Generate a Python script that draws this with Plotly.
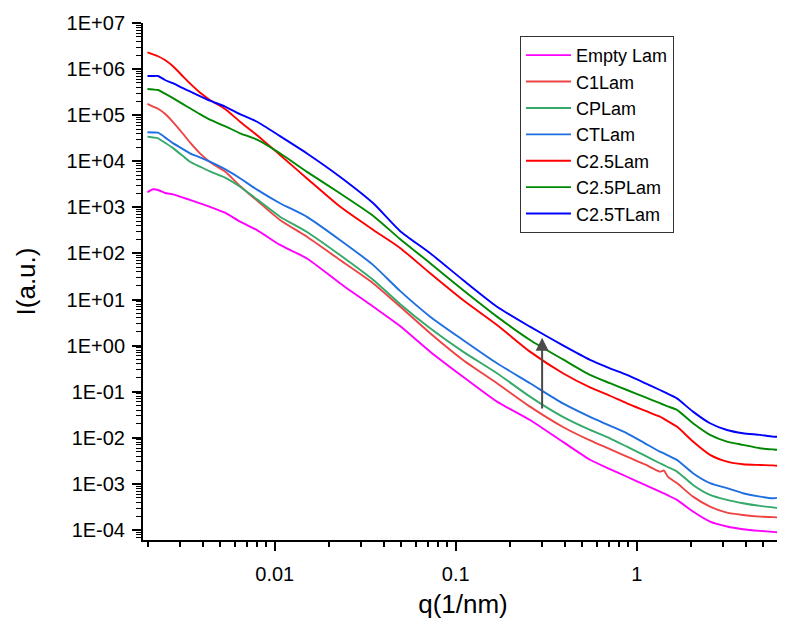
import math
import plotly.graph_objects as go

# scattering vector q (1/nm)
q = [0.00198, 0.002124, 0.002265, 0.002475, 0.00274, 0.00311, 0.00340, 0.00386, 0.00438,
     0.00531, 0.00643, 0.00798, 0.01069, 0.01507, 0.02291, 0.0349, 0.0492, 0.0722, 0.1096,
     0.169, 0.257, 0.391, 0.552, 0.711, 0.883, 1.110, 1.343, 1.413, 1.488, 1.667, 2.045,
     2.54, 3.15, 3.86, 4.80, 5.66, 6.18, 6.40]

empty_lam = [2.13e3, 2.47e3, 2.38e3, 2.05e3, 1.92e3, 1.63e3, 1.45e3, 1.22e3, 1.03e3, 767,
             490, 322, 153, 77.9, 22.6, 7.05, 2.67, 0.741, 0.212, 0.0610, 0.0244, 0.00815,
             0.00335, 0.00209, 0.00143, 9.55e-4, 6.81e-4, 6.22e-4, 5.63e-4, 4.50e-4, 2.51e-4,
             1.52e-4, 1.19e-4, 1.04e-4, 9.55e-5, 9.10e-5, 8.79e-5, 8.6e-5]
c1_lam = [1.75e5, 1.54e5, 1.38e5, 1.07e5, 7.08e4, 3.95e4, 2.56e4, 1.48e4, 9.66e3, 5.98e3,
          2.91e3, 1.40e3, 533, 230, 72.3, 22.7, 7.08, 1.86, 0.490, 0.153, 0.0475, 0.0172,
          0.00879, 0.00569, 0.00389, 0.00265, 0.00185, 0.00195, 0.00142, 0.00104, 5.30e-4,
          3.22e-4, 2.38e-4, 2.12e-4, 1.95e-4, 1.90e-4, 1.86e-4, 1.85e-4]
cp_lam = [3.42e4, 3.28e4, 3.15e4, 2.52e4, 1.93e4, 1.30e4, 9.80e3, 7.67e3, 6.04e3, 4.43e3,
          2.81e3, 1.49e3, 628, 293, 92.7, 26.9, 8.03, 2.38, 0.741, 0.252, 0.0783, 0.0284,
          0.0148, 0.00975, 0.00641, 0.00409, 0.00281, 0.00255, 0.00230, 0.00185, 9.51e-4,
          5.77e-4, 4.50e-4, 3.81e-4, 3.33e-4, 3.09e-4, 2.97e-4, 2.9e-4]
ct_lam = [4.26e4, 4.22e4, 4.17e4, 3.30e4, 2.48e4, 1.84e4, 1.49e4, 1.22e4, 9.80e3, 6.74e3,
          4.28e3, 2.42e3, 1.23e3, 622, 196, 56.6, 15.4, 4.26, 1.33, 0.415, 0.153, 0.0557,
          0.0284, 0.0183, 0.0125, 0.00760, 0.00502, 0.00459, 0.00415, 0.00332, 0.00171,
          0.00104, 8.07e-4, 6.28e-4, 5.30e-4, 4.90e-4, 5.22e-4, 7.4e-4]
c25_lam = [2.31e6, 2.09e6, 1.90e6, 1.57e6, 1.15e6, 6.95e5, 4.90e5, 3.10e5, 2.14e5, 1.36e5,
           7.23e4, 3.68e4, 1.37e4, 4.24e3, 1.04e3, 327, 132, 37.2, 9.79, 2.81, 0.741, 0.252,
           0.124, 0.0818, 0.0560, 0.0389, 0.0288, 0.0257, 0.0228, 0.0175, 0.00828, 0.00426,
           0.00305, 0.00267, 0.00258, 0.00252, 0.00245, 0.0024]
c25p_lam = [3.70e5, 3.61e5, 3.52e5, 2.93e5, 2.34e5, 1.74e5, 1.41e5, 1.05e5, 7.99e4, 5.77e4,
            4.05e4, 2.94e4, 1.49e4, 5.89e3, 2.02e3, 658, 206, 61.3, 16.1, 4.26, 1.33, 0.502,
            0.231, 0.153, 0.109, 0.0760, 0.0563, 0.0518, 0.0480, 0.0403, 0.0207, 0.0116,
            0.00828, 0.00702, 0.00595, 0.00560, 0.00546, 0.0055]
c25t_lam = [7.08e5, 7.08e5, 7.08e5, 5.80e5, 4.94e5, 3.85e5, 3.27e5, 2.60e5, 2.07e5, 1.54e5,
            1.05e5, 7.19e4, 3.52e4, 1.48e4, 4.63e3, 1.24e3, 308, 101, 26.6, 7.01, 2.58, 1.01,
            0.490, 0.322, 0.231, 0.154, 0.109, 0.0990, 0.0896, 0.0716, 0.0370, 0.0207,
            0.0148, 0.0126, 0.0116, 0.0106, 0.0109, 0.027]

series_names = ["Empty Lam", "C1Lam", "CPLam", "CTLam", "C2.5Lam", "C2.5PLam", "C2.5TLam"]
series_values = [empty_lam, c1_lam, cp_lam, ct_lam, c25_lam, c25p_lam, c25t_lam]
series_colors = ["#FF00FF", "#EE4444", "#35A96A", "#1F6FE0", "#FF0000", "#008800", "#0000FF"]

# tick labels
y_tick_vals = [1e-4, 1e-3, 1e-2, 1e-1, 1e0, 1e1, 1e2, 1e3, 1e4, 1e5, 1e6, 1e7]
y_tick_text = ["1E-04", "1E-03", "1E-02", "1E-01", "1E+00", "1E+01", "1E+02", "1E+03",
               "1E+04", "1E+05", "1E+06", "1E+07"]
x_tick_vals = [0.01, 0.1, 1]
x_tick_text = ["0.01", "0.1", "1"]

# arrow (q position, from intensity, to intensity)
arrow_q = 0.30
arrow_from = 0.040
arrow_to = 1.49

FONT = "Liberation Sans, Arial, sans-serif"

fig = go.Figure()
for name, vals, col in zip(series_names, series_values, series_colors):
    fig.add_trace(go.Scatter(x=q, y=vals, mode="lines", name=name,
                             line=dict(color=col, width=1.9, shape="spline", smoothing=0.6)))


def minor_vals(lo, hi):
    out = []
    for e in range(lo, hi):
        for m in range(2, 10):
            out.append(m * 10.0 ** e)
    return out


fig.add_annotation(x=math.log10(arrow_q), y=math.log10(arrow_to),
                   ax=math.log10(arrow_q), ay=math.log10(arrow_from),
                   xref="x", yref="y", axref="x", ayref="y",
                   showarrow=True, arrowhead=2, arrowsize=1.3, arrowwidth=2,
                   arrowcolor="#4A4A4A", text="")

# the page body adds an 8px offset; the figure is sized to fit the 785x625 window
fig.update_layout(
    width=777, height=617,
    margin=dict(l=135, r=2, t=15, b=85, autoexpand=False),
    plot_bgcolor="white", paper_bgcolor="white",
    font=dict(family=FONT, size=20, color="black"),
    showlegend=True,
    legend=dict(x=0.589, y=0.975, xanchor="left", yanchor="top",
                bgcolor="white", bordercolor="#333333", borderwidth=1,
                font=dict(family=FONT, size=18, color="black"),
                tracegroupgap=0, itemwidth=45),
    xaxis=dict(type="log", range=[-2.728, 0.808], automargin=False,
               showline=True, linecolor="black", linewidth=2, mirror=False,
               showgrid=False, zeroline=False,
               ticks="outside", ticklen=9, tickwidth=1.5, tickcolor="black",
               tickmode="array", tickvals=x_tick_vals, ticktext=x_tick_text,
               ticklabelstandoff=6,
               minor=dict(tickmode="array", tickvals=minor_vals(-3, 1), ticks="outside",
                          ticklen=5, tickwidth=1.5, tickcolor="black", showgrid=False),
               title=dict(text="q(1/nm)", font=dict(family=FONT, size=26), standoff=11)),
    yaxis=dict(type="log", range=[-4.217, 7.0], automargin=False,
               showline=True, linecolor="black", linewidth=2, mirror=False,
               showgrid=False, zeroline=False,
               ticks="outside", ticklen=9, tickwidth=1.5, tickcolor="black",
               tickmode="array", tickvals=y_tick_vals, ticktext=y_tick_text,
               ticklabelstandoff=3,
               minor=dict(tickmode="array", tickvals=minor_vals(-5, 7), ticks="outside",
                          ticklen=5, tickwidth=1.2, tickcolor="black", showgrid=False),
               title=dict(text="I(a.u.)", font=dict(family=FONT, size=26), standoff=24)),
)

fig.write_html("out.html")
